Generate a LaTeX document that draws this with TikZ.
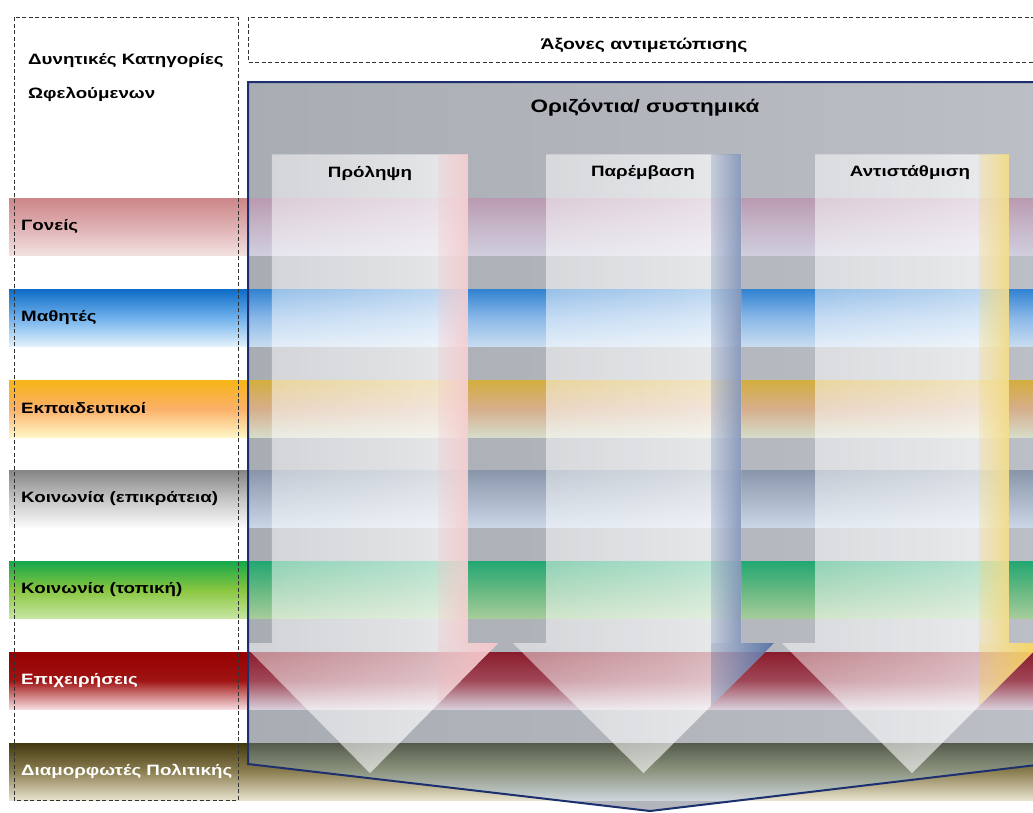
\documentclass[tikz,border=0pt]{standalone}
\usepackage{fontspec}
\setmainfont{Liberation Sans}
\newfontfamily\labfont{Liberation Sans}[FakeStretch=1.25]
\usetikzlibrary{fadings}

\pgfdeclarehorizontalshading{arrowfadeshade}{100bp}{color(0bp)=(pgftransparent!66); color(55bp)=(pgftransparent!38); color(100bp)=(pgftransparent!8)}
\pgfdeclarefading{arrowfade}{\pgfuseshading{arrowfadeshade}}
\pgfdeclarehorizontalshading{stripfadeshade}{100bp}{color(0bp)=(pgftransparent!100); color(100bp)=(pgftransparent!0)}
\pgfdeclarefading{stripfade}{\pgfuseshading{stripfadeshade}}

\definecolor{oAt}{HTML}{CD8587}\definecolor{oAm}{HTML}{DEB0B2}\definecolor{oAb}{HTML}{F2E0E0}
\definecolor{iAt}{HTML}{BA9AB0}\definecolor{iAm}{HTML}{C6B6C8}\definecolor{iAb}{HTML}{D0CEDE}
\definecolor{oBt}{HTML}{0B6BC6}\definecolor{oBm}{HTML}{6FB0EC}\definecolor{oBb}{HTML}{E2F1FB}
\definecolor{iBt}{HTML}{3182D2}\definecolor{iBm}{HTML}{8AB8E8}\definecolor{iBb}{HTML}{C8DCF0}
\definecolor{oCt}{HTML}{F7B516}\definecolor{oCm}{HTML}{FBB068}\definecolor{oCb}{HTML}{FFF6C6}
\definecolor{iCt}{HTML}{D4AE3E}\definecolor{iCm}{HTML}{D6AE8C}\definecolor{iCb}{HTML}{D6DCCA}
\definecolor{oDt}{HTML}{858585}\definecolor{oDm}{HTML}{C4C4C4}\definecolor{oDb}{HTML}{FAFAFA}
\definecolor{iDt}{HTML}{8996AA}\definecolor{iDm}{HTML}{AAB6C8}\definecolor{iDb}{HTML}{CAD6E6}
\definecolor{oEt}{HTML}{14A84C}\definecolor{oEm}{HTML}{88C63E}\definecolor{oEb}{HTML}{C6E6A2}
\definecolor{iEt}{HTML}{22A772}\definecolor{iEm}{HTML}{66B882}\definecolor{iEb}{HTML}{A6CC9A}
\definecolor{oFt}{HTML}{960000}\definecolor{oFm}{HTML}{A01414}\definecolor{oFb}{HTML}{F6DCE0}
\definecolor{iFt}{HTML}{8A1C2C}\definecolor{iFm}{HTML}{A04858}\definecolor{iFb}{HTML}{D8CEDA}
\definecolor{oGt}{HTML}{43380F}\definecolor{oGm}{HTML}{8C7F52}\definecolor{oGb}{HTML}{E8E2CE}
\definecolor{iGt}{HTML}{545B4B}\definecolor{iGm}{HTML}{8E9682}\definecolor{iGb}{HTML}{CDD5DA}
\definecolor{shapeL}{HTML}{A8ACB3}\definecolor{shapeR}{HTML}{BCBFC5}
\definecolor{navy}{HTML}{1C2F6E}
\definecolor{pinkS}{HTML}{F4C4C6}\definecolor{pinkW}{HTML}{F6B8BC}
\definecolor{blueS}{HTML}{6A80AC}\definecolor{blueW}{HTML}{2C4C8C}
\definecolor{yelS}{HTML}{F2D56C}\definecolor{yelW}{HTML}{F8C82A}

\begin{document}
\begin{tikzpicture}[x=1pt,y=-1pt,
  dashbox/.style={draw=black!80, dash pattern=on 4pt off 2.5pt, line width=1pt},
  lab/.style={anchor=west, font=\labfont\bfseries\fontsize{15}{17}\selectfont, inner sep=0pt},
  headtext/.style={font=\labfont\bfseries\fontsize{15}{17}\selectfont, inner sep=0pt},
  ]
\useasboundingbox (0,0) rectangle (1033,812);
\fill[white] (0,0) rectangle (1033,812);

% bands (outside colours)
\foreach \y/\L in {198/A,289/B,380/C,470/D,561/E,652/F,743/G}
  \shade[top color=o\L t, bottom color=o\L b, middle color=o\L m] (9,\y) rectangle (1040,\y+57);

% main chevron shape
\begin{scope}
  \clip (248,82) -- (1040,82) -- (1040,765) -- (650,811) -- (248,764) -- cycle;
  \shade[left color=shapeL, right color=shapeR] (240,78) rectangle (1045,816);
  \foreach \y/\L in {198/A,289/B,380/C,470/D,561/E,652/F,743/G}
    \shade[top color=i\L t, bottom color=i\L b, middle color=i\L m] (248,\y) rectangle (1040,\y+57);
\end{scope}

% arrows
\foreach \Ls/\Rs/\HL/\HR/\cx/\col/\wcol in {272/468/242/498/370/pinkS/pinkW, 546/741/513/774/643.5/blueS/blueW, 815/1009/782/1042/912/yelS/yelW}{
  \fill[white, path fading=arrowfade, fit fading=true] (\Ls,154) -- (\Rs,154) -- (\Rs,643) -- (\HR,643) -- (\cx,773) -- (\HL,643) -- (\Ls,643) -- cycle;
  \fill[\col, path fading=stripfade, fit fading=true] (\Rs-30,154) rectangle (\Rs,643);
  \fill[\wcol, path fading=stripfade, fit fading=true] (\Rs-30,643) -- (\HR,643) -- (\Rs-30,643+\HR-\Rs+30) -- cycle;
}

% border of the chevron
\draw[navy, line width=2pt, line join=miter] (1045,82) -- (248,82) -- (248,764) -- (650,811) -- (1045,764);

% dashed boxes
\draw[dashbox] (14,17) rectangle (238,800);
\draw[dashbox] (248,17) rectangle (1045,62);

% texts
\node[lab] (title1) at (28,61) {Δυνητικές Κατηγορίες};
\node[lab] (title2) at (28,94) {Ωφελούμενων};
\node[headtext, font=\labfont\bfseries\fontsize{15.5}{17}\selectfont] (axes) at (644,45) {Άξονες αντιμετώπισης};
\node[headtext, font=\labfont\bfseries\fontsize{18}{20}\selectfont] (horiz) at (645,108) {Οριζόντια/ συστημικά};
\node[headtext] (prol) at (370,173) {Πρόληψη};
\node[headtext] (parem) at (643,173) {Παρέμβαση};
\node[headtext] (antis) at (910,173) {Αντιστάθμιση};

\node[lab] (gon) at (21,226.5) {Γονείς};
\node[lab] (math) at (21,317.5) {Μαθητές};
\node[lab] (ekp) at (21,408.5) {Εκπαιδευτικοί};
\node[lab] (koin1) at (21,498.5) {Κοινωνία (επικράτεια)};
\node[lab] (koin2) at (21,589.5) {Κοινωνία (τοπική)};
\node[lab, text=white] (epix) at (21,680.5) {Επιχειρήσεις};
\node[lab, text=white] (diam) at (21,771.5) {Διαμορφωτές Πολιτικής};
\end{tikzpicture}
\end{document}
